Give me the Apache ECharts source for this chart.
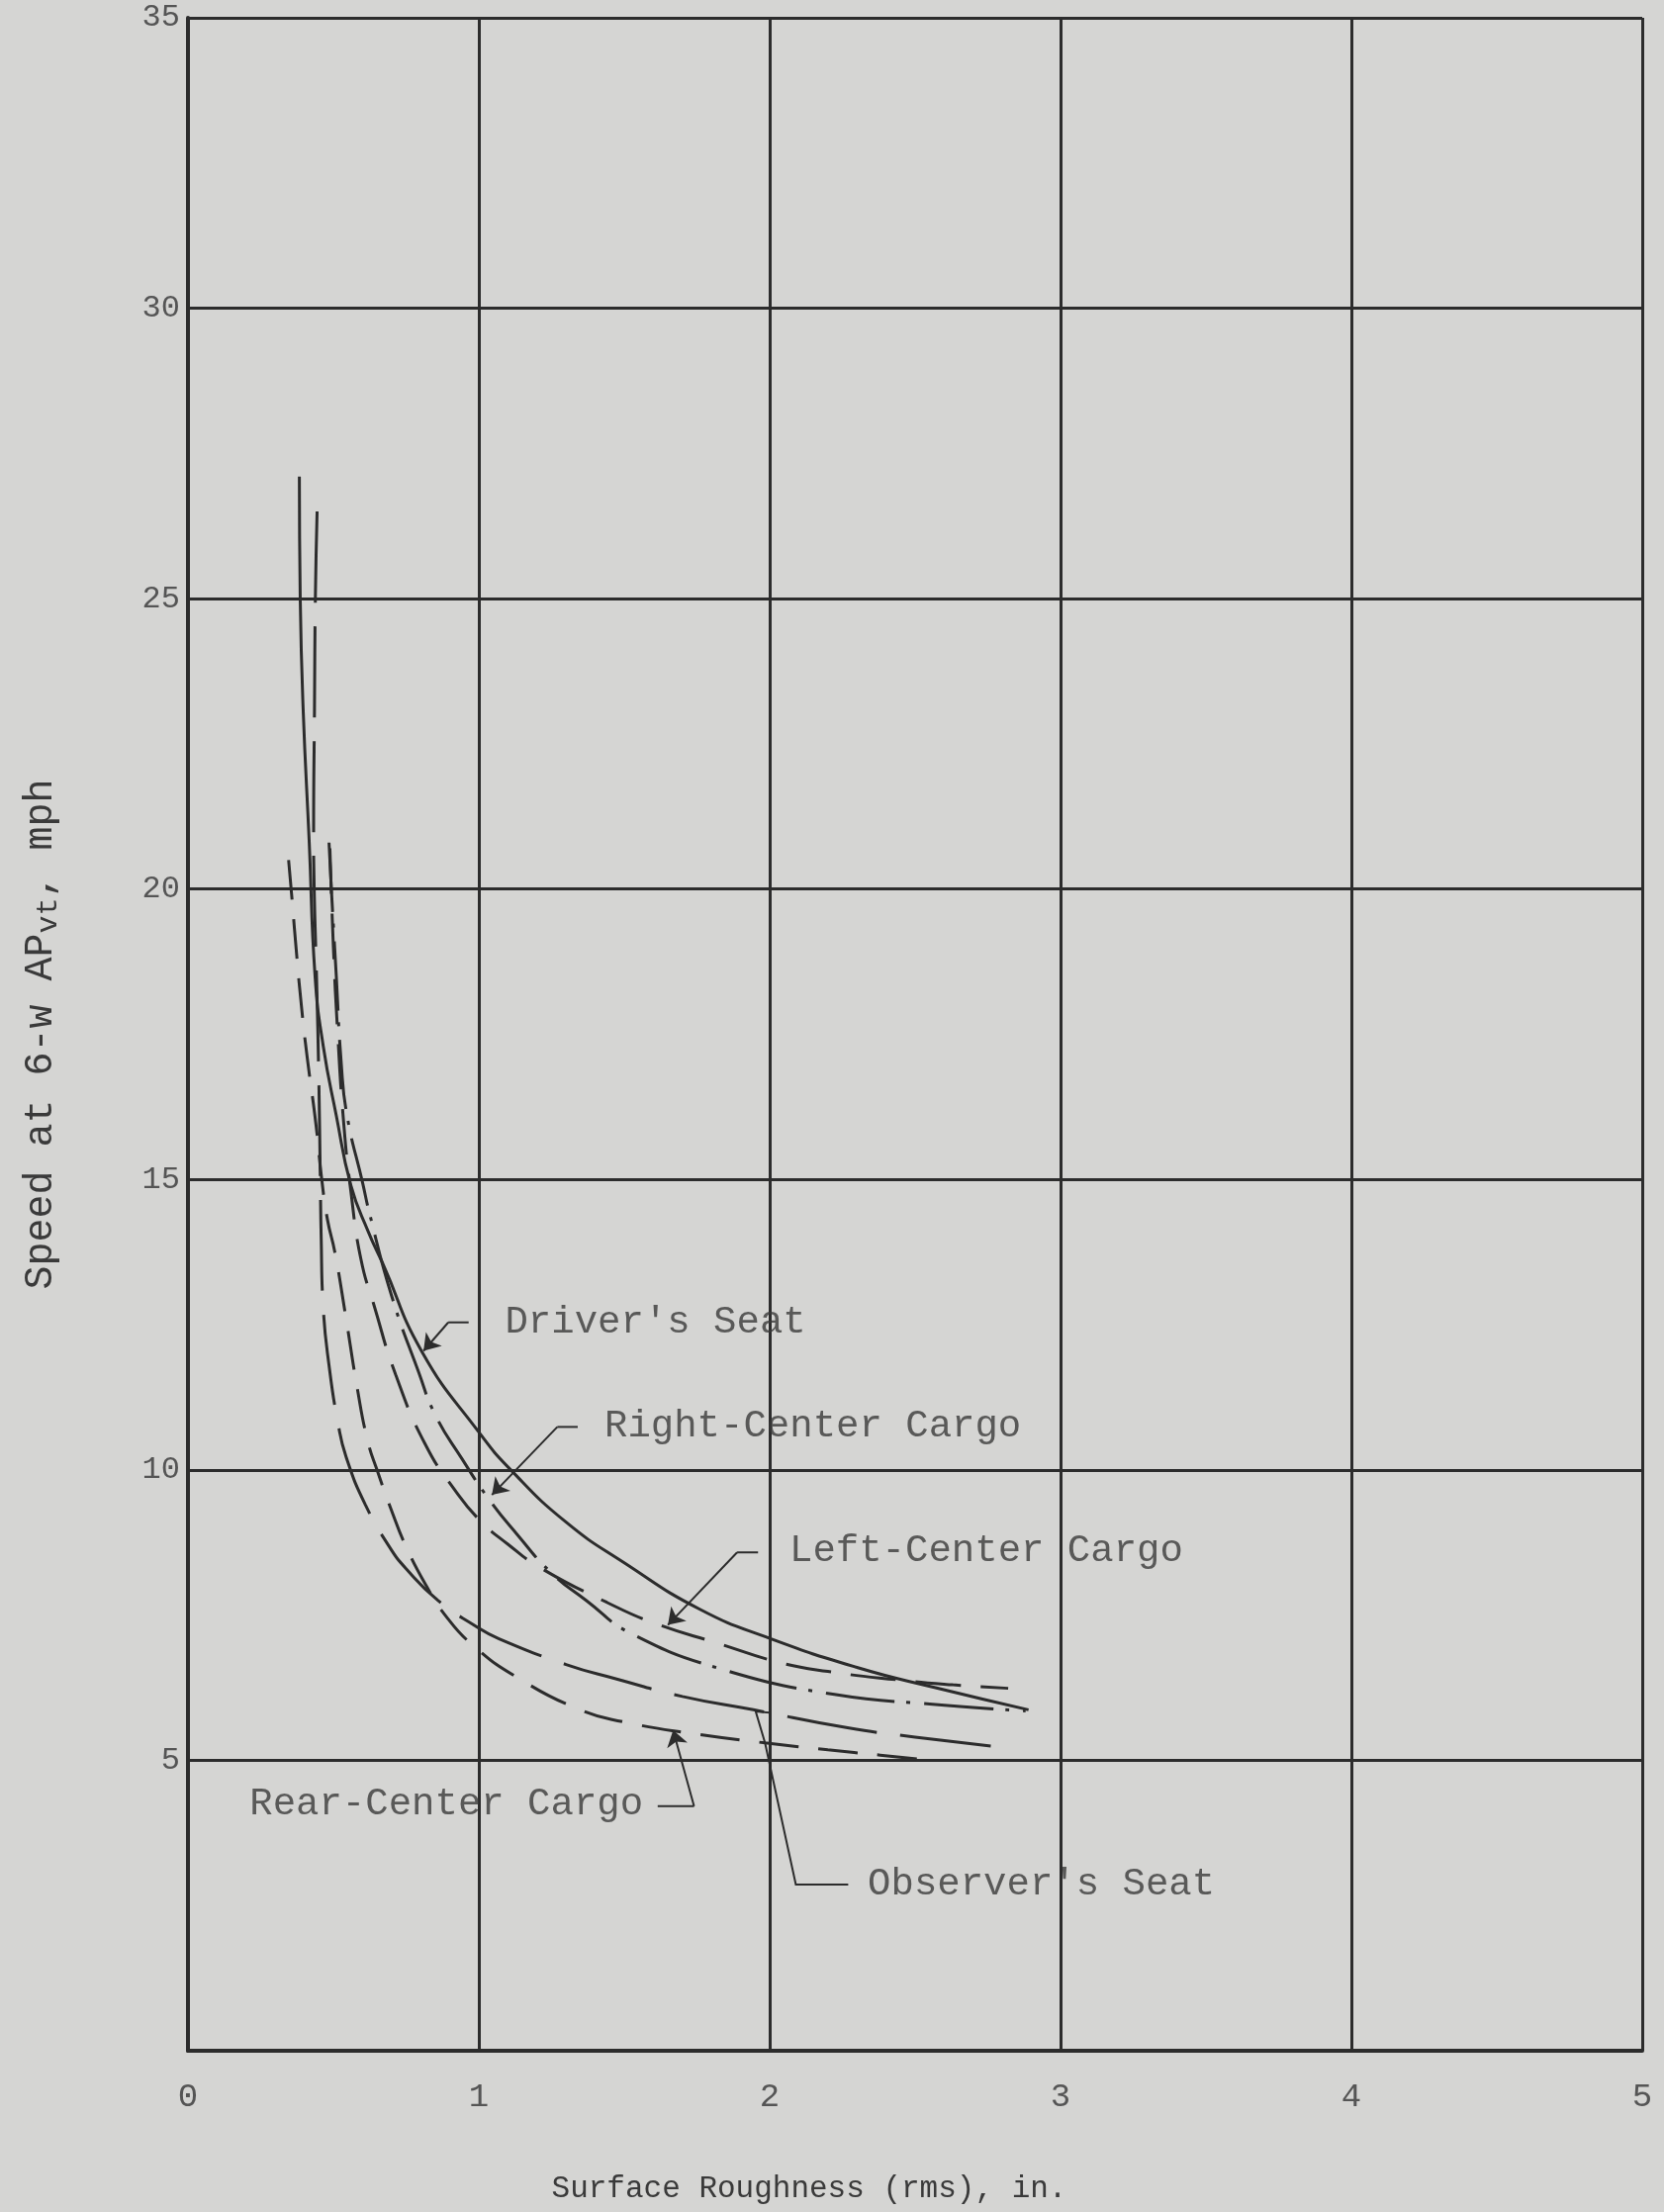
<!DOCTYPE html>
<html>
<head>
<meta charset="UTF-8">
<title>Speed vs Surface Roughness</title>
<style>
  html, body { margin: 0; padding: 0; background: #d5d5d3; }
  #chart { width: 1682px; height: 2236px; }
</style>
<script src="https://cdn.jsdelivr.net/npm/echarts@6/dist/echarts.min.js"></script>
</head>
<body>
<div id="chart"></div>
<script>
// axis ticks
var xTicks = [0, 1, 2, 3, 4, 5];
var yTicks = [0, 5, 10, 15, 20, 25, 30, 35];

// curves: [roughness (in.), speed (mph)]
var driverSeat = [[0.383,27.1],[0.386,25.0],[0.396,23.1],[0.417,20.8],[0.437,18.5],[0.465,17.3],[0.51,16.1],[0.56,14.9],[0.62,14.1],[0.67,13.55],[0.805,12.03],[1.0,10.65],[1.11,10.0],[1.3,9.1],[1.5,8.4],[1.76,7.6],[2.0,7.1],[2.3,6.6],[2.57,6.25],[2.89,5.87]];
var rightCenter = [[0.485,20.8],[0.493,20.0],[0.51,18.5],[0.527,17.0],[0.547,16.1],[0.601,14.93],[0.624,14.42],[0.7,13.0],[0.794,11.67],[0.85,10.95],[0.941,10.2],[1.037,9.48],[1.13,8.9],[1.247,8.24],[1.37,7.75],[1.525,7.18],[1.848,6.55],[2.228,6.13],[2.55,5.97],[2.88,5.85]];
var leftCenter = [[0.488,20.7],[0.50,19.0],[0.515,17.5],[0.535,16.0],[0.56,14.8],[0.595,13.62],[0.64,12.83],[0.714,11.64],[0.816,10.44],[0.918,9.65],[1.0,9.15],[1.1,8.72],[1.213,8.31],[1.44,7.72],[1.61,7.35],[1.825,7.01],[2.03,6.69],[2.2,6.53],[2.45,6.38],[2.63,6.30],[2.82,6.24]];
var observerSeat = [[0.444,26.5],[0.438,25.0],[0.435,23.1],[0.432,21.0],[0.434,20.0],[0.442,18.5],[0.45,16.7],[0.455,15.0],[0.458,14.0],[0.465,12.8],[0.485,11.8],[0.516,10.8],[0.544,10.22],[0.61,9.4],[0.692,8.68],[0.75,8.3],[0.86,7.75],[0.986,7.32],[1.066,7.1],[1.3,6.65],[1.474,6.4],[1.7,6.1],[1.944,5.87],[2.268,5.56],[2.5,5.4],[2.81,5.22]];
var rearCenter = [[0.346,20.5],[0.357,19.87],[0.374,18.85],[0.391,17.94],[0.41,17.1],[0.44,15.95],[0.46,15.0],[0.48,14.3],[0.505,13.75],[0.539,12.75],[0.584,11.35],[0.618,10.5],[0.65,10.0],[0.7,9.3],[0.748,8.7],[0.82,8.0],[0.884,7.5],[0.98,6.98],[1.134,6.42],[1.349,5.87],[1.5,5.66],[1.735,5.46],[1.984,5.3],[2.2,5.18],[2.38,5.09],[2.57,4.99]];

// callout labels and their leader lines (data coordinates)
var labelNames = ["Driver's Seat", 'Right-Center Cargo', 'Left-Center Cargo', 'Rear-Center Cargo', "Observer's Seat"];
var labelAnchors = [[1.09,12.54],[1.432,10.75],[2.068,8.6],[1.565,4.25],[2.337,2.86]];
var labelSides = ['right', 'right', 'right', 'left', 'right'];
var leaders = [
  [[0.965,12.54],[0.895,12.54],[0.81,12.05]],
  [[1.34,10.74],[1.27,10.74],[1.045,9.57]],
  [[1.96,8.58],[1.888,8.58],[1.65,7.33]],
  [[1.615,4.21],[1.74,4.21],[1.668,5.52]],
  [[2.27,2.86],[2.09,2.86],[1.984,5.30],[1.952,5.84],[2.0,5.82]]
];
var leaderArrow = [true, true, true, true, false];

var ink = '#2c2c2c';
var font = 'Liberation Mono';

function curve(name, data, type) {
  return {
    name: name,
    type: 'line',
    data: data,
    showSymbol: false,
    smooth: 0.5,
    lineStyle: { color: ink, width: 3, type: type },
    z: 3
  };
}

var series = [
  curve("Driver's Seat", driverSeat, 'solid'),
  curve('Right-Center Cargo', rightCenter, [70, 12, 4, 14]),
  curve('Left-Center Cargo', leftCenter, [46, 20]),
  curve("Observer's Seat", observerSeat, [92, 24]),
  curve('Rear-Center Cargo', rearCenter, [40, 20])
];

// leader bodies as polylines, the last segment separately so it can carry an arrow
var leaderBodies = [];
var leaderTips = [];
leaders.forEach(function (pts, i) {
  if (leaderArrow[i]) {
    leaderBodies.push({ coords: pts.slice(0, pts.length - 1) });
    leaderTips.push({ coords: pts.slice(pts.length - 2) });
  } else {
    leaderBodies.push({ coords: pts });
  }
});

series.push({
  type: 'lines',
  coordinateSystem: 'cartesian2d',
  polyline: true,
  lineStyle: { color: ink, width: 2, opacity: 1 },
  data: leaderBodies,
  z: 4
});
series.push({
  type: 'lines',
  coordinateSystem: 'cartesian2d',
  symbol: ['none', 'arrow'],
  symbolSize: [9, 16],
  lineStyle: { color: ink, width: 2, opacity: 1 },
  data: leaderTips,
  z: 4
});

series.push({
  type: 'scatter',
  symbolSize: 0,
  data: labelAnchors.map(function (p, i) {
    return {
      value: p,
      label: {
        show: true,
        position: labelSides[i],
        distance: 0,
        formatter: labelNames[i]
      }
    };
  }),
  label: { color: '#3a3a3a', fontFamily: font, fontSize: 39 },
  z: 5
});

var chart = echarts.init(document.getElementById('chart'));
chart.setOption({
  backgroundColor: '#d5d5d3',
  animation: false,
  grid: { left: 190, right: 22, top: 18, bottom: 163, containLabel: false },
  xAxis: {
    type: 'value',
    min: xTicks[0],
    max: xTicks[xTicks.length - 1],
    interval: 1,
    name: 'Surface Roughness (rms), in.',
    nameLocation: 'middle',
    nameGap: 124,
    nameTextStyle: { color: '#3a3a3a', fontFamily: font, fontSize: 31, padding: [0, 214, 0, 0] },
    axisLine: { show: true, lineStyle: { color: ink, width: 4 } },
    axisTick: { show: false },
    axisLabel: { color: '#555', fontFamily: font, fontSize: 34, margin: 30 },
    splitLine: { show: true, lineStyle: { color: ink, width: 3 } }
  },
  yAxis: {
    type: 'value',
    min: yTicks[0],
    max: yTicks[yTicks.length - 1],
    interval: 5,
    name: 'Speed at 6-w AP{sub|vt}, mph',
    nameLocation: 'middle',
    nameGap: 126,
    nameTextStyle: {
      color: '#3a3a3a', fontFamily: font, fontSize: 40,
      rich: { sub: { fontFamily: font, fontSize: 30, color: '#3a3a3a', padding: [16, 0, 0, 0] } }
    },
    axisLine: { show: true, lineStyle: { color: ink, width: 4 } },
    axisTick: { show: false },
    axisLabel: {
      color: '#555', fontFamily: font, fontSize: 32, margin: 8,
      padding: [16, 0, 0, 0],
      formatter: function (v) { return v === 0 ? '' : String(v); }
    },
    splitLine: { show: true, lineStyle: { color: ink, width: 3 } }
  },
  series: series
});
</script>
</body>
</html>
